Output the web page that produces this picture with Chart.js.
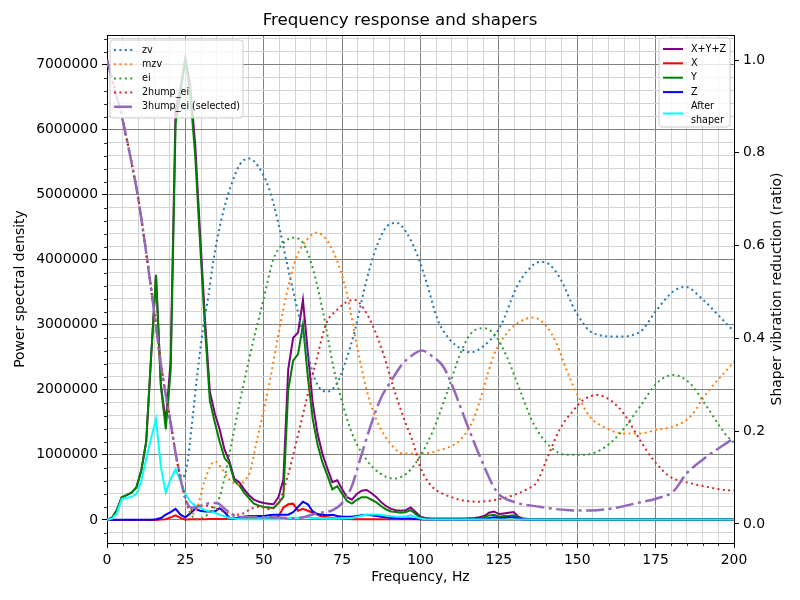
<!DOCTYPE html>
<html>
<head>
<meta charset="utf-8">
<script src="https://cdn.jsdelivr.net/npm/chart.js@4.4.1/dist/chart.umd.min.js"></script>
<style>
  html, body { margin: 0; padding: 0; background: #fff; }
</style>
</head>
<body>
<canvas id="chart" width="800" height="600"></canvas>
<script>
// frequency bins of the power spectral density (Hz)
const psdFreqs = [
  0, 1.56, 3.13, 4.69, 6.25, 7.81, 9.38, 10.94, 12.5, 14.06,
  15.63, 17.19, 18.75, 20.31, 21.88, 23.44, 25, 26.56, 28.13, 29.69,
  31.25, 32.81, 34.38, 35.94, 37.5, 39.06, 40.63, 42.19, 43.75, 45.31,
  46.88, 48.44, 50, 51.56, 53.13, 54.69, 56.25, 57.81, 59.38, 60.94,
  62.5, 64.06, 65.63, 67.19, 68.75, 70.31, 71.88, 73.44, 75, 76.56,
  78.13, 79.69, 81.25, 82.81, 84.38, 85.94, 87.5, 89.06, 90.63, 92.19,
  93.75, 95.31, 96.88, 98.44, 100, 101.56, 103.13, 104.69, 106.25, 107.81,
  109.38, 110.94, 112.5, 114.06, 115.63, 117.19, 118.75, 120.31, 121.88, 123.44,
  125, 126.56, 128.13, 129.69, 131.25, 132.81, 134.38, 137.5, 140.63, 143.75,
  146.88, 150, 153.13, 156.25, 159.38, 162.5, 165.63, 168.75, 171.88, 175,
  178.13, 181.25, 184.38, 187.5, 190.63, 193.75, 196.88, 200
];

const psdSum = [
  0, 30000, 150000, 350000, 380000, 420000, 500000, 760000, 1200000, 2500000,
  3770000, 2080000, 1500000, 2450000, 6300000, 6660000, 7100000, 6660000, 5780000, 4400000,
  3090000, 1970000, 1640000, 1390000, 1080000, 900000, 630000, 580000, 470000, 380000,
  310000, 280000, 260000, 250000, 240000, 350000, 620000, 2320000, 2800000, 2880000,
  3380000, 2580000, 1790000, 1320000, 1010000, 790000, 580000, 610000, 470000, 350000,
  310000, 400000, 450000, 460000, 410000, 350000, 270000, 210000, 170000, 150000,
  140000, 150000, 190000, 120000, 50000, 30000, 20000, 20000, 20000, 20000,
  20000, 20000, 20000, 20000, 25000, 30000, 40000, 60000, 110000, 130000,
  90000, 100000, 110000, 120000, 50000, 20000, 15000, 15000, 15000, 15000,
  15000, 15000, 15000, 15000, 15000, 15000, 15000, 15000, 15000, 15000,
  15000, 15000, 15000, 15000, 15000, 15000, 15000, 15000
];

const psdX = [
  0, 0, 0, 0, 0, 0, 0, 0, 0, 0,
  0, 5000, 10000, 40000, 70000, 30000, 3000, 10000, 10000, 10000,
  10000, 15000, 15000, 15000, 15000, 20000, 20000, 20000, 20000, 20000,
  20000, 20000, 20000, 25000, 30000, 50000, 190000, 240000, 250000, 140000,
  170000, 140000, 110000, 80000, 50000, 40000, 30000, 30000, 20000, 15000,
  10000, 10000, 10000, 10000, 10000, 10000, 10000, 10000, 10000, 10000,
  10000, 10000, 10000, 10000, 10000, 5000, 3000, 3000, 3000, 3000,
  3000, 3000, 3000, 3000, 3000, 3000, 3000, 3000, 3000, 3000,
  3000, 3000, 3000, 3000, 3000, 3000, 3000, 3000, 3000, 3000,
  3000, 3000, 3000, 3000, 3000, 3000, 3000, 3000, 3000, 3000,
  3000, 3000, 3000, 3000, 3000, 3000, 3000, 3000
];

const psdY = [
  0, 30000, 150000, 350000, 380000, 420000, 500000, 760000, 1200000, 2500000,
  3760000, 2050000, 1400000, 2300000, 6100000, 6550000, 7080000, 6550000, 5600000, 4250000,
  2950000, 1830000, 1500000, 1200000, 950000, 860000, 600000, 530000, 420000, 330000,
  250000, 220000, 200000, 190000, 180000, 260000, 350000, 2000000, 2450000, 2550000,
  3000000, 2200000, 1550000, 1150000, 880000, 680000, 470000, 520000, 400000, 290000,
  250000, 310000, 350000, 350000, 310000, 270000, 210000, 160000, 130000, 120000,
  110000, 120000, 150000, 90000, 30000, 20000, 15000, 15000, 15000, 15000,
  15000, 15000, 15000, 15000, 15000, 15000, 15000, 40000, 70000, 80000,
  50000, 60000, 60000, 70000, 30000, 12000, 10000, 8000, 8000, 8000,
  8000, 8000, 8000, 8000, 8000, 8000, 8000, 8000, 8000, 8000,
  8000, 8000, 8000, 8000, 8000, 8000, 8000, 8000
];

const psdZ = [
  3000, 3000, 3000, 3000, 3000, 3000, 3000, 3000, 3000, 3000,
  10000, 30000, 80000, 120000, 170000, 80000, 40000, 100000, 170000, 140000,
  130000, 130000, 130000, 180000, 120000, 30000, 20000, 40000, 50000, 60000,
  60000, 60000, 60000, 70000, 80000, 80000, 80000, 80000, 120000, 200000,
  280000, 240000, 130000, 90000, 80000, 70000, 80000, 60000, 50000, 50000,
  50000, 60000, 70000, 80000, 70000, 60000, 50000, 40000, 30000, 30000,
  20000, 20000, 20000, 15000, 10000, 8000, 8000, 8000, 8000, 8000,
  8000, 8000, 8000, 8000, 8000, 8000, 8000, 15000, 30000, 40000,
  30000, 30000, 40000, 40000, 20000, 5000, 5000, 5000, 5000, 5000,
  5000, 5000, 5000, 5000, 5000, 5000, 5000, 5000, 5000, 5000,
  5000, 5000, 5000, 5000, 5000, 5000, 5000, 5000
];

const psdShaped = [
  0, 20000, 100000, 320000, 340000, 350000, 400000, 600000, 940000, 1250000,
  1550000, 810000, 420000, 630000, 780000, 600000, 400000, 280000, 220000, 190000,
  150000, 130000, 110000, 80000, 55000, 30000, 20000, 15000, 10000, 10000,
  10000, 10000, 10000, 10000, 10000, 10000, 15000, 30000, 35000, 35000,
  45000, 40000, 30000, 30000, 25000, 25000, 20000, 25000, 25000, 30000,
  30000, 50000, 65000, 80000, 85000, 85000, 75000, 65000, 55000, 50000,
  50000, 50000, 70000, 45000, 20000, 10000, 8000, 8000, 8000, 8000,
  8000, 8000, 8000, 8000, 8000, 8000, 8000, 8000, 8000, 8000,
  8000, 8000, 8000, 8000, 8000, 8000, 8000, 8000, 8000, 8000,
  8000, 8000, 8000, 8000, 8000, 8000, 8000, 8000, 8000, 8000,
  8000, 8000, 8000, 8000, 8000, 8000, 8000, 8000
];

// shaper vibration reduction ratios (right axis)
const zvFreqs = [0, 5, 7.5, 10, 12.5, 15, 17.5, 20, 22, 24, 25.5, 27, 28.6, 30.2, 32.3, 34, 36.6, 39.6, 42.4, 45.3,
  48.3, 51.5, 54.6, 57.3, 61, 64.2, 66.9, 70.1, 73.3, 75.9, 79.1, 82.8, 86, 89.2, 92.4, 95.6, 98.8, 102, 105.5, 109.4,
  112.6, 116, 120, 125.4, 130.7, 134, 138.1, 141, 144.5, 149.8, 155.1, 162.6, 170, 175.3, 180.6, 184.4, 190.2, 195, 200];
const zvVals = [1.0, 0.87, 0.79, 0.70, 0.585, 0.46, 0.33, 0.23, 0.15, 0.10, 0.125, 0.21, 0.31, 0.40, 0.49, 0.57, 0.66, 0.73, 0.775, 0.788,
  0.77, 0.727, 0.65, 0.565, 0.454, 0.361, 0.303, 0.285, 0.303, 0.346, 0.418, 0.526, 0.598, 0.641, 0.649, 0.627, 0.583, 0.519, 0.44, 0.397,
  0.379, 0.37, 0.383, 0.425, 0.511, 0.545, 0.565, 0.56, 0.53, 0.454, 0.411, 0.404, 0.414, 0.461, 0.501, 0.511, 0.483, 0.45, 0.415];

const mzvFreqs = [0, 5, 7.5, 10, 12.5, 15, 17.5, 20, 22.5, 25, 27, 29, 31, 33, 34.5, 36.5, 38.5, 40.5, 42.4, 44,
  45.5, 47.5, 49.5, 52, 55, 57.8, 60.5, 63.7, 66.7, 70.1, 73.3, 76.5, 79.6, 82.8, 86, 90.3, 94.5, 99.8, 105.5, 112.6,
  116.8, 120, 123.2, 127.5, 131.7, 136, 140.3, 143.4, 146.6, 149.8, 154.1, 159.4, 164.7, 170, 175.3, 180.6, 186, 191.3, 198.2, 200];
const mzvVals = [1.0, 0.87, 0.79, 0.70, 0.585, 0.46, 0.33, 0.23, 0.13, 0.055, 0.02, 0.04, 0.09, 0.125, 0.135, 0.12, 0.1, 0.088, 0.085, 0.095,
  0.11, 0.17, 0.23, 0.31, 0.42, 0.511, 0.576, 0.612, 0.628, 0.612, 0.569, 0.497, 0.389, 0.289, 0.224, 0.174, 0.152, 0.152, 0.158, 0.181,
  0.224, 0.289, 0.361, 0.411, 0.436, 0.445, 0.425, 0.389, 0.332, 0.282, 0.231, 0.206, 0.195, 0.195, 0.203, 0.21, 0.231, 0.282, 0.336, 0.35];

const eiFreqs = [0, 5, 7.5, 10, 12.5, 15, 17.5, 20, 22.5, 25, 26.5, 28.5, 31, 33.5, 35.5, 37.5, 39, 40.5, 42.4, 44.5,
  46.5, 49.9, 53, 56.2, 59.4, 62.6, 65.8, 69, 72.2, 75.4, 78.6, 82.8, 87.1, 91.3, 95.6, 99.8, 104.1, 108.4, 112.6, 116,
  120, 123.8, 127.5, 131.7, 136, 141.3, 146.6, 151.9, 157.3, 163.6, 170, 175.3, 180.6, 186, 191.3, 197.1, 200];
const eiVals = [1.0, 0.87, 0.79, 0.70, 0.585, 0.46, 0.33, 0.23, 0.13, 0.055, 0.025, 0.01, 0.015, 0.03, 0.05, 0.1, 0.15, 0.2, 0.265, 0.33,
  0.39, 0.483, 0.569, 0.605, 0.617, 0.605, 0.547, 0.454, 0.339, 0.253, 0.188, 0.138, 0.109, 0.098, 0.109, 0.145, 0.203, 0.282, 0.365, 0.41,
  0.422, 0.407, 0.361, 0.289, 0.217, 0.167, 0.149, 0.149, 0.159, 0.195, 0.253, 0.303, 0.321, 0.303, 0.253, 0.195, 0.175];

const hump2Freqs = [0, 5, 7.5, 10, 12.5, 15, 17.5, 20, 22.5, 25, 26.5, 28.5, 31, 34, 38, 41, 43.5, 46, 49, 51.5,
  54, 55.7, 57.3, 58.9, 60.5, 62.1, 63.7, 65.3, 66.9, 68.5, 70.1, 73.3, 76.5, 79.1, 81.8, 84.9, 88.1, 91.3, 94.5, 97.7,
  99.8, 102.5, 104.6, 106.8, 109.4, 112.6, 117.9, 122.2, 125.4, 129.6, 133.9, 137.1, 140, 144.5, 148.8, 151.9, 156.2, 160.5, 164.7, 170,
  174.3, 179.6, 186, 191.3, 197.1, 200];
const hump2Vals = [1.0, 0.87, 0.79, 0.70, 0.585, 0.46, 0.33, 0.23, 0.13, 0.055, 0.03, 0.035, 0.04, 0.035, 0.025, 0.02, 0.023, 0.033, 0.037, 0.032,
  0.04, 0.06, 0.095, 0.135, 0.18, 0.225, 0.27, 0.315, 0.355, 0.4, 0.435, 0.461, 0.479, 0.483, 0.465, 0.425, 0.368, 0.296, 0.231, 0.174,
  0.125, 0.09, 0.075, 0.066, 0.059, 0.052, 0.048, 0.05, 0.054, 0.062, 0.075, 0.09, 0.135, 0.205, 0.245, 0.267, 0.278, 0.267, 0.239, 0.181,
  0.138, 0.102, 0.088, 0.08, 0.073, 0.072];

const hump3Freqs = [0, 5, 7.5, 10, 12.5, 15, 17.5, 20, 22.5, 25, 27, 30, 33, 35, 38, 42, 48, 55, 60, 67,
  72, 75, 78, 81, 84, 87.3, 90.8, 94, 97, 100.4, 104, 107.3, 110.5, 112.6, 114.7, 119, 124.3, 129.6, 138.1, 146.6,
  154.1, 161.5, 169, 175.3, 180.6, 184.9, 191.3, 198.2, 200];
const hump3Vals = [1.0, 0.87, 0.79, 0.70, 0.585, 0.46, 0.33, 0.23, 0.13, 0.055, 0.035, 0.04, 0.045, 0.045, 0.03, 0.015, 0.015, 0.014, 0.012, 0.023,
  0.03, 0.045, 0.08, 0.145, 0.21, 0.27, 0.31, 0.343, 0.362, 0.374, 0.36, 0.339, 0.292, 0.255, 0.217, 0.145, 0.07, 0.048, 0.037, 0.03,
  0.029, 0.034, 0.045, 0.055, 0.07, 0.109, 0.145, 0.177, 0.185];

// axis ticks
const xMajorTicks = [0, 25, 50, 75, 100, 125, 150, 175, 200];
const yMajorTicks = [0, 1000000, 2000000, 3000000, 4000000, 5000000, 6000000, 7000000];
const y2Ticks = [0.0, 0.2, 0.4, 0.6, 0.8, 1.0];

const FONT = '"DejaVu Sans", sans-serif';
const dotted = [2, 3.4];
const dashDot = [18, 4.5, 3, 4.5];

const xTickValues = [];
for (let v = 0; v <= 200; v += 5) xTickValues.push(v);
const yTickValues = [];
for (let v = -200000; v <= 7400000; v += 200000) yTickValues.push(v);

const isXMajor = v => xMajorTicks.includes(v);
const isYMajor = v => yMajorTicks.includes(v);

function pts(xs, ys) {
  return xs.map((x, i) => ({ x: x, y: ys[i] }));
}

const shapers = [
  { label: 'zv', xs: zvFreqs, ys: zvVals, color: '#1f77b4', dash: dotted, width: 2 },
  { label: 'mzv', xs: mzvFreqs, ys: mzvVals, color: '#ff7f0e', dash: dotted, width: 2 },
  { label: 'ei', xs: eiFreqs, ys: eiVals, color: '#2ca02c', dash: dotted, width: 2 },
  { label: '2hump_ei', xs: hump2Freqs, ys: hump2Vals, color: '#d62728', dash: dotted, width: 2 },
  { label: '3hump_ei (selected)', xs: hump3Freqs, ys: hump3Vals, color: '#9467bd', dash: dashDot, width: 2.5 }
];

const psdSeries = [
  { label: ['X+Y+Z'], ys: psdSum, color: '#800080' },
  { label: ['X'], ys: psdX, color: '#ff0000' },
  { label: ['Y'], ys: psdY, color: '#008000' },
  { label: ['Z'], ys: psdZ, color: '#0000ff' },
  { label: ['After', 'shaper'], ys: psdShaped, color: '#00ffff' }
];

// first dataset is drawn on top in Chart.js, so reverse matplotlib's plot order
const datasets = [];
shapers.slice().reverse().forEach(s => {
  datasets.push({
    label: s.label,
    data: pts(s.xs, s.ys),
    yAxisID: 'y2',
    borderColor: s.color,
    borderWidth: s.width,
    borderDash: s.dash,
    borderCapStyle: 'butt',
    pointRadius: 0,
    fill: false,
    cubicInterpolationMode: 'monotone'
  });
});
psdSeries.slice().reverse().forEach(s => {
  datasets.push({
    label: s.label.join(' '),
    data: pts(psdFreqs, s.ys),
    yAxisID: 'y',
    borderColor: s.color,
    borderWidth: 2,
    pointRadius: 0,
    fill: false,
    tension: 0
  });
});

function drawLegend(ctx, box, rows) {
  const r = 3;
  ctx.save();
  ctx.beginPath();
  ctx.moveTo(box.x + r, box.y);
  ctx.arcTo(box.x + box.w, box.y, box.x + box.w, box.y + box.h, r);
  ctx.arcTo(box.x + box.w, box.y + box.h, box.x, box.y + box.h, r);
  ctx.arcTo(box.x, box.y + box.h, box.x, box.y, r);
  ctx.arcTo(box.x, box.y, box.x + box.w, box.y, r);
  ctx.closePath();
  ctx.fillStyle = 'rgba(255,255,255,0.8)';
  ctx.fill();
  ctx.strokeStyle = '#cccccc';
  ctx.lineWidth = 1;
  ctx.stroke();

  ctx.font = '9.6px ' + FONT;
  ctx.textBaseline = 'middle';
  ctx.textAlign = 'left';
  rows.forEach(row => {
    ctx.beginPath();
    ctx.setLineDash(row.dash || []);
    ctx.lineCap = 'butt';
    ctx.strokeStyle = row.color;
    ctx.lineWidth = row.width;
    ctx.moveTo(box.x + 4, row.y);
    ctx.lineTo(box.x + 24, row.y);
    ctx.stroke();
    ctx.setLineDash([]);
    ctx.fillStyle = '#000';
    const n = row.lines.length;
    row.lines.forEach((t, i) => {
      ctx.fillText(t, box.x + 32, row.y + (i - (n - 1) / 2) * 13.4);
    });
  });
  ctx.restore();
}

const overlay = {
  id: 'overlay',
  afterDraw(chart) {
    const ctx = chart.ctx;
    const a = chart.chartArea;
    const xs = chart.scales.x;
    const ys = chart.scales.y;
    ctx.save();
    // minor tick marks (shorter than the major ones)
    ctx.strokeStyle = '#000';
    ctx.lineWidth = 0.8;
    ctx.beginPath();
    xTickValues.filter(v => !isXMajor(v)).forEach(v => {
      const px = Math.round(xs.getPixelForValue(v)) + 0.5;
      ctx.moveTo(px, a.bottom);
      ctx.lineTo(px, a.bottom + 3);
    });
    yTickValues.filter(v => !isYMajor(v)).forEach(v => {
      const py = Math.round(ys.getPixelForValue(v)) + 0.5;
      ctx.moveTo(a.left - 3, py);
      ctx.lineTo(a.left, py);
    });
    ctx.stroke();
    // top spine
    ctx.lineWidth = 1;
    ctx.beginPath();
    ctx.moveTo(a.left, Math.round(a.top) + 0.5);
    ctx.lineTo(a.right, Math.round(a.top) + 0.5);
    ctx.stroke();
    // right axis title, reading bottom to top like matplotlib
    ctx.save();
    ctx.translate(777, (a.top + a.bottom) / 2);
    ctx.rotate(-Math.PI / 2);
    ctx.font = '13.9px ' + FONT;
    ctx.fillStyle = '#000';
    ctx.textAlign = 'center';
    ctx.textBaseline = 'middle';
    ctx.fillText('Shaper vibration reduction (ratio)', 0, 0);
    ctx.restore();
    ctx.restore();

    drawLegend(ctx, { x: 110, y: 40, w: 133, h: 78 },
      shapers.map((s, i) => ({ lines: [s.label], color: s.color, dash: s.dash, width: s.width, y: 50 + i * 14.2 })));
    const rightRows = [49, 63.3, 77.7, 92.1, 113.5];
    drawLegend(ctx, { x: 659, y: 38, w: 71, h: 89 },
      psdSeries.map((s, i) => ({ lines: s.label, color: s.color, dash: [], width: 2, y: rightRows[i] })));
  }
};

new Chart(document.getElementById('chart').getContext('2d'), {
  type: 'line',
  data: { datasets: datasets },
  options: {
    responsive: false,
    animation: false,
    devicePixelRatio: 1,
    layout: { padding: 0 },
    plugins: {
      legend: { display: false },
      tooltip: { enabled: false },
      title: {
        display: true,
        text: 'Frequency response and shapers',
        color: '#000',
        font: { family: FONT, size: 16.67, weight: 'normal' },
        padding: { top: 11, bottom: 4 }
      }
    },
    scales: {
      x: {
        type: 'linear',
        min: 0,
        max: 200,
        afterBuildTicks: s => { s.ticks = xTickValues.map(v => ({ value: v })); },
        afterFit: s => { s.height = 57; },
        ticks: {
          autoSkip: false,
          maxRotation: 0,
          padding: 4,
          color: '#000',
          font: { family: FONT, size: 13.9 },
          callback: v => isXMajor(v) ? String(v) : ''
        },
        grid: {
          color: c => (c.tick && isXMajor(c.tick.value)) ? '#808080' : '#d3d3d3',
          lineWidth: 1,
          tickLength: 5,
          tickColor: c => (c.tick && isXMajor(c.tick.value)) ? '#000' : 'rgba(0,0,0,0)'
        },
        border: { color: '#000', width: 1 },
        title: {
          display: true,
          text: 'Frequency, Hz',
          color: '#000',
          font: { family: FONT, size: 13.9 },
          padding: { top: 0, bottom: 14.7 }
        }
      },
      y: {
        type: 'linear',
        position: 'left',
        min: -355000,
        max: 7455000,
        afterBuildTicks: s => { s.ticks = yTickValues.map(v => ({ value: v })); },
        afterFit: s => { s.width = 107; },
        ticks: {
          autoSkip: false,
          padding: 4,
          color: '#000',
          font: { family: FONT, size: 13.9 },
          callback: v => isYMajor(v) ? String(v) : ''
        },
        grid: {
          color: c => (c.tick && isYMajor(c.tick.value)) ? '#808080' : '#d3d3d3',
          lineWidth: 1,
          tickLength: 5,
          tickColor: c => (c.tick && isYMajor(c.tick.value)) ? '#000' : 'rgba(0,0,0,0)'
        },
        border: { color: '#000', width: 1 },
        title: {
          display: true,
          text: 'Power spectral density',
          color: '#000',
          font: { family: FONT, size: 13.9 },
          padding: { top: 12, bottom: 0 }
        }
      },
      y2: {
        type: 'linear',
        position: 'right',
        min: -0.041,
        max: 1.054,
        afterBuildTicks: s => { s.ticks = y2Ticks.map(v => ({ value: v })); },
        afterFit: s => { s.width = 66; },
        ticks: {
          autoSkip: false,
          padding: 4,
          color: '#000',
          font: { family: FONT, size: 13.9 },
          callback: v => v.toFixed(1)
        },
        grid: {
          drawOnChartArea: false,
          tickLength: 5,
          tickColor: '#000'
        },
        border: { color: '#000', width: 1 }
      }
    }
  },
  plugins: [overlay]
});
</script>
</body>
</html>
